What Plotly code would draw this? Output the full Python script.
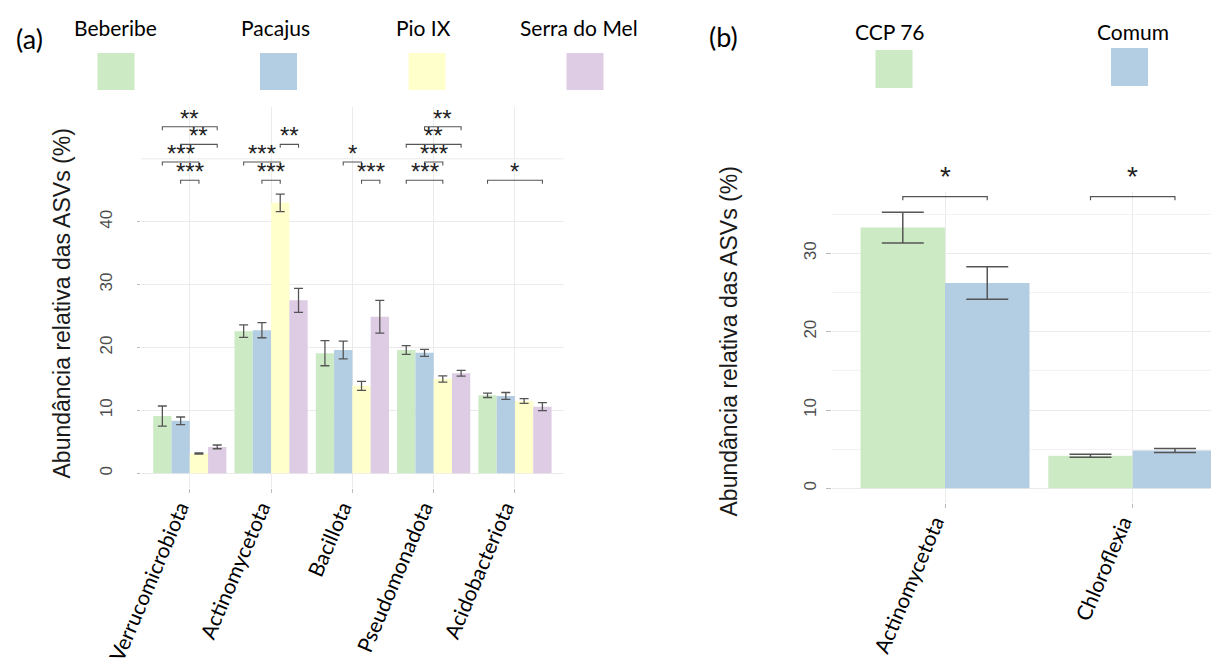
import plotly.graph_objects as go

W, H = 1211, 661

# ---------------- Panel (a) data ----------------
phyla_a = ["Verrucomicrobiota", "Actinomycetota", "Bacillota", "Pseudomonadota", "Acidobacteriota"]
sites = ["Beberibe", "Pacajus", "Pio IX", "Serra do Mel"]
beberibe = [9.1, 22.6, 19.1, 19.6, 12.4]
beberibe_se = [1.6, 1.0, 2.0, 0.7, 0.35]
pacajus = [8.35, 22.75, 19.6, 19.15, 12.3]
pacajus_se = [0.6, 1.2, 1.4, 0.55, 0.55]
pio_ix = [3.15, 43.0, 13.9, 15.0, 11.5]
pio_ix_se = [0.1, 1.4, 0.7, 0.5, 0.37]
serra_do_mel = [4.2, 27.5, 24.9, 15.9, 10.6]
serra_do_mel_se = [0.3, 1.9, 2.6, 0.45, 0.63]
yticks_a = [0, 10, 20, 30, 40]
ygrid_extra_a = [50]

# significance comparisons (phylum, group1, group2, bracket row, label)
sig_a = [
    ("Verrucomicrobiota", "Beberibe", "Serra do Mel", 4, "**"),
    ("Verrucomicrobiota", "Pacajus", "Serra do Mel", 3, "**"),
    ("Verrucomicrobiota", "Beberibe", "Pio IX", 2, "***"),
    ("Verrucomicrobiota", "Pacajus", "Pio IX", 1, "***"),
    ("Actinomycetota", "Pio IX", "Serra do Mel", 3, "**"),
    ("Actinomycetota", "Beberibe", "Pio IX", 2, "***"),
    ("Actinomycetota", "Pacajus", "Pio IX", 1, "***"),
    ("Bacillota", "Pacajus", "Pio IX", 2, "*"),
    ("Bacillota", "Pio IX", "Serra do Mel", 1, "***"),
    ("Pseudomonadota", "Pacajus", "Serra do Mel", 4, "**"),
    ("Pseudomonadota", "Beberibe", "Serra do Mel", 3, "**"),
    ("Pseudomonadota", "Pacajus", "Pio IX", 2, "***"),
    ("Pseudomonadota", "Beberibe", "Pio IX", 1, "***"),
    ("Acidobacteriota", "Beberibe", "Serra do Mel", 1, "*"),
]
sig_rows_a = {1: 46.6, 2: 49.5, 3: 52.3, 4: 55.1}

# ---------------- Panel (b) data ----------------
phyla_b = ["Actinomycetota", "Chloroflexia"]
groups_b = ["CCP 76", "Comum"]
ccp76 = [33.3, 4.15]
ccp76_se = [1.96, 0.19]
comum = [26.22, 4.82]
comum_se = [2.08, 0.25]
yticks_b = [0, 10, 20, 30]
yminor_b = [5, 15, 25, 35]
sig_b = [
    ("Actinomycetota", "CCP 76", "Comum", "*"),
    ("Chloroflexia", "CCP 76", "Comum", "*"),
]
sig_level_b = 37.24

# ---------------- styles ----------------
colors = ["#CCEBC5", "#B3CDE3", "#FFFFCC", "#DECBE4"]
ERR = "#555555"
GRID = "#EBEBEB"
TICKC = "#4D4D4D"
LABEL_FONT = "Lato"
SANS = "Liberation Sans"

fig = go.Figure()

vals_a = [beberibe, pacajus, pio_ix, serra_do_mel]
errs_a = [beberibe_se, pacajus_se, pio_ix_se, serra_do_mel_se]
xa = list(range(len(phyla_a)))
for i, s in enumerate(sites):
    fig.add_trace(go.Bar(
        x=xa, y=vals_a[i], name=s, marker=dict(color=colors[i], line=dict(width=0)),
        error_y=dict(type="data", array=errs_a[i], color=ERR, thickness=1.3, width=4.5),
        xaxis="x", yaxis="y", showlegend=False, offsetgroup=str(i),
    ))

vals_b = [ccp76, comum]
errs_b = [ccp76_se, comum_se]
xb = list(range(len(phyla_b)))
for i, g in enumerate(groups_b):
    fig.add_trace(go.Bar(
        x=xb, y=vals_b[i], name=g, marker=dict(color=colors[i], line=dict(width=0)),
        error_y=dict(type="data", array=errs_b[i], color=ERR, thickness=1.5, width=21),
        xaxis="x2", yaxis="y2", showlegend=False, offsetgroup="b" + str(i),
    ))

BARGAP = 0.1


def group_offset(idx, n):
    w = (1 - BARGAP) / n
    return -(1 - BARGAP) / 2 + w * (idx + 0.5)


shapes = []
annotations = []

# extra grid line (panel a, no label)
for gy in ygrid_extra_a:
    shapes.append(dict(type="line", xref="x domain", yref="y", x0=0, x1=1, y0=gy, y1=gy,
                       line=dict(color=GRID, width=1), layer="below"))

# brackets panel (a)
tip_a = 0.55
for ph, g1, g2, row, lab in sig_a:
    c = phyla_a.index(ph)
    x1 = c + group_offset(sites.index(g1), len(sites))
    x2 = c + group_offset(sites.index(g2), len(sites))
    y = sig_rows_a[row]
    shapes.append(dict(type="path", xref="x", yref="y",
                       path=f"M {x1},{y - tip_a} L {x1},{y} L {x2},{y} L {x2},{y - tip_a}",
                       line=dict(color="#555555", width=1.1)))
    annotations.append(dict(x=(x1 + x2) / 2, y=y, xref="x", yref="y", text=lab, showarrow=False,
                            xanchor="center", yanchor="bottom", yshift=-7,
                            font=dict(family=SANS, size=24, color="#222222")))

# brackets panel (b)
tip_b = 0.45
for ph, g1, g2, lab in sig_b:
    c = phyla_b.index(ph)
    x1 = c + group_offset(groups_b.index(g1), len(groups_b))
    x2 = c + group_offset(groups_b.index(g2), len(groups_b))
    y = sig_level_b
    shapes.append(dict(type="path", xref="x2", yref="y2",
                       path=f"M {x1},{y - tip_b} L {x1},{y} L {x2},{y} L {x2},{y - tip_b}",
                       line=dict(color="#555555", width=1.2)))
    annotations.append(dict(x=(x1 + x2) / 2, y=y, xref="x2", yref="y2", text=lab, showarrow=False,
                            xanchor="center", yanchor="bottom", yshift=3,
                            font=dict(family=SANS, size=28, color="#222222")))


def px(x):
    return x / W


def py(y):
    return 1 - y / H


# legends (custom, text above swatches)
legend_a = [(115, 116), (275, 278.5), (423.5, 427), (578.5, 585)]
for i, s in enumerate(sites):
    tx, sx = legend_a[i]
    annotations.append(dict(x=px(tx), y=py(28), xref="paper", yref="paper", text=s, showarrow=False,
                            xanchor="center", yanchor="middle",
                            font=dict(family=LABEL_FONT, size=21, color="black")))
    shapes.append(dict(type="rect", xref="paper", yref="paper", x0=px(sx - 18.5), x1=px(sx + 18.5),
                       y0=py(90), y1=py(53), fillcolor=colors[i], line=dict(width=0)))
legend_b = [(890, 894, 50, 88), (1132.5, 1129.5, 48, 86)]
for i, g in enumerate(groups_b):
    tx, sx, y0, y1 = legend_b[i]
    annotations.append(dict(x=px(tx), y=py(31), xref="paper", yref="paper", text=g, showarrow=False,
                            xanchor="center", yanchor="middle",
                            font=dict(family=LABEL_FONT, size=21, color="black")))
    shapes.append(dict(type="rect", xref="paper", yref="paper", x0=px(sx - 18.5), x1=px(sx + 18.5),
                       y0=py(y1), y1=py(y0), fillcolor=colors[i], line=dict(width=0)))

# panel letters
annotations.append(dict(x=px(29), y=py(38), xref="paper", yref="paper", text="(a)", showarrow=False,
                        xanchor="center", yanchor="middle",
                        font=dict(family=LABEL_FONT, size=27, color="black")))
annotations.append(dict(x=px(723), y=py(37), xref="paper", yref="paper", text="(b)", showarrow=False,
                        xanchor="center", yanchor="middle",
                        font=dict(family=LABEL_FONT, size=27, color="black")))

# y axis titles
ytitle = "Abundância relativa das ASVs (%)"
annotations.append(dict(x=px(61), y=py(303.5), xref="paper", yref="paper", text=ytitle, showarrow=False,
                        xanchor="center", yanchor="middle",
                        textangle=-90, font=dict(family=SANS, size=23, color="#1a1a1a")))
annotations.append(dict(x=px(728), y=py(341.5), xref="paper", yref="paper", text=ytitle, showarrow=False,
                        xanchor="center", yanchor="middle",
                        textangle=-90, font=dict(family=SANS, size=23, color="#1a1a1a")))

xaxis_common = dict(showline=False, zeroline=False, showgrid=True, gridcolor=GRID, gridwidth=1,
                    ticks="outside", ticklen=4, tickcolor="#BBBBBB", tickwidth=1,
                    tickangle=-67, tickfont=dict(family=LABEL_FONT, size=21, color="black"),
                    ticklabelshift=-10, ticklabelstandoff=-6,
                    automargin=False)
yaxis_common = dict(showline=False, zeroline=False, showgrid=True, gridcolor=GRID, gridwidth=1,
                    ticks="outside", tickwidth=1,
                    tickangle=-90, tickfont=dict(family=SANS, size=17, color=TICKC),
                    automargin=False)

fig.update_layout(
    width=W, height=H, margin=dict(l=0, r=0, t=0, b=0),
    paper_bgcolor="white", plot_bgcolor="white",
    barmode="group", bargap=BARGAP, bargroupgap=0,
    xaxis=dict(domain=[px(141), px(563.75)], range=[-0.6, len(phyla_a) - 0.4],
               tickvals=xa, ticktext=phyla_a, anchor="y", **xaxis_common),
    yaxis=dict(domain=[py(488.4), py(106.6)], range=[-2.4, 58.3],
               tickvals=yticks_a, anchor="x", ticklen=11, tickcolor="rgba(0,0,0,0)",
               ticklabelstandoff=10,
               minor=dict(tickvals=yticks_a, showgrid=False, ticks="outside", ticklen=3,
                          tickcolor="#BBBBBB", tickwidth=1),
               **yaxis_common),
    xaxis2=dict(domain=[px(832.4), 1.0], range=[-0.6, 1.417],
                tickvals=xb, ticktext=phyla_b, anchor="y2", **xaxis_common),
    yaxis2=dict(domain=[py(502.8), py(192.3)], range=[-1.85, 37.8],
                tickvals=yticks_b, anchor="x2", ticklen=5, tickcolor="#BBBBBB",
                ticklabelstandoff=4,
                minor=dict(tickvals=yminor_b, showgrid=True, gridcolor="#F3F3F3", ticklen=0),
                **yaxis_common),
    shapes=shapes, annotations=annotations,
)

fig.write_html("out.html", config={"displayModeBar": False},
               post_script="document.body.style.margin='0';")
